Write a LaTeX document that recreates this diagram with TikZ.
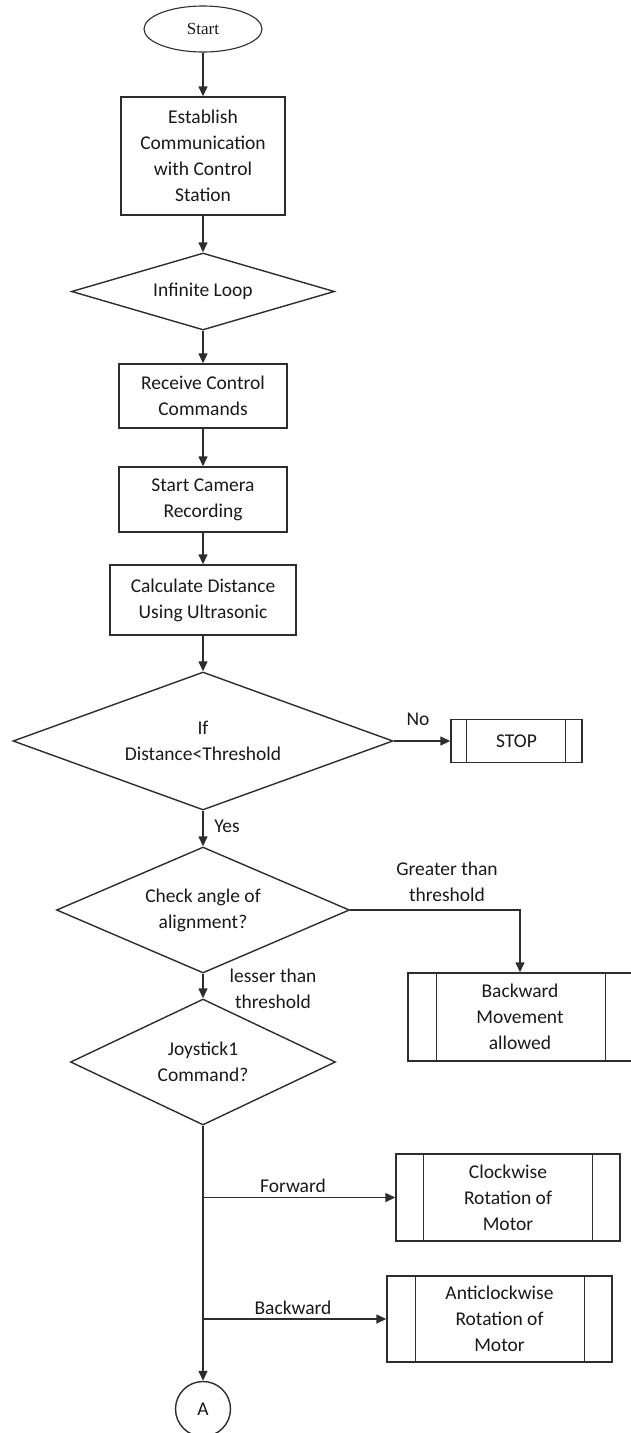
\documentclass[tikz,border=0pt]{standalone}
\usepackage{fontspec}
\setmainfont{Carlito}
\newfontfamily\startfont{Liberation Serif}
\usetikzlibrary{shapes.geometric,arrows.meta,calc}
\definecolor{ln}{RGB}{45,45,45}
\definecolor{tx}{RGB}{25,25,25}
\begin{document}
\begin{tikzpicture}[x=1pt,y=-1pt,
  every node/.style={font=\fontsize{19.5}{26}\selectfont, text=tx},
  line/.style={draw=ln, line width=1.4pt},
  arr/.style={line, -{Triangle[length=10pt,width=9pt]}},
  proc/.style={line, rectangle, align=center, inner sep=0pt},
  dec/.style={line, diamond, align=center, inner sep=0pt},
  lbl/.style={align=center, inner sep=0pt}
]
\useasboundingbox (0,0) rectangle (630,1433);
% main column
\node[line, line width=1.1pt, ellipse, minimum width=118pt, minimum height=46pt, inner sep=0pt,
      font=\startfont\fontsize{17}{20}\selectfont] (start) at (203,29) {Start};
\node[proc, minimum width=164pt, minimum height=118pt] (est) at (203,156)
  {Establish\\Communication\\with Control\\Station};
\node[dec, minimum width=263pt, minimum height=77pt, aspect=3.4] (loop) at (203,291.5) {Infinite Loop};
\node[proc, minimum width=168pt, minimum height=64pt] (recv) at (203,396) {Receive Control\\Commands};
\node[proc, minimum width=168pt, minimum height=65pt] (cam) at (203,499.5) {Start Camera\\Recording};
\node[proc, minimum width=186pt, minimum height=70pt] (calc) at (203,600) {Calculate Distance\\Using Ultrasonic};
\node[dec, minimum width=380pt, minimum height=138pt, aspect=2.75] (ifd) at (203,741) {If\\Distance<Threshold};
\node[dec, minimum width=293pt, minimum height=126pt, aspect=2.33] (chk) at (203,910) {Check angle of\\alignment?};
\node[dec, minimum width=265pt, minimum height=126pt, aspect=2.1] (joy) at (203,1062) {Joystick1\\Command?};
\node[line, circle, minimum size=55pt, inner sep=0pt] (A) at (203,1409) {A};
% right side boxes
\node[proc, minimum width=131pt, minimum height=43pt] (stop) at (516.5,741) {STOP};
\draw[line] ([xshift=16pt]stop.north west) -- ([xshift=16pt]stop.south west);
\draw[line] ([xshift=-17pt]stop.north east) -- ([xshift=-17pt]stop.south east);
\node[proc, minimum width=224pt, minimum height=88pt] (back) at (520,1017) {Backward\\Movement\\allowed};
\draw[line] ([xshift=29pt]back.north west) -- ([xshift=29pt]back.south west);
\draw[line] ([xshift=-27pt]back.north east) -- ([xshift=-27pt]back.south east);
\node[proc, minimum width=224pt, minimum height=87pt] (cw) at (508,1197.5) {Clockwise\\Rotation of\\Motor};
\draw[line] ([xshift=28pt]cw.north west) -- ([xshift=28pt]cw.south west);
\draw[line] ([xshift=-28pt]cw.north east) -- ([xshift=-28pt]cw.south east);
\node[proc, minimum width=225pt, minimum height=86pt] (acw) at (499.5,1319) {Anticlockwise\\Rotation of\\Motor};
\draw[line] ([xshift=29pt]acw.north west) -- ([xshift=29pt]acw.south west);
\draw[line] ([xshift=-28pt]acw.north east) -- ([xshift=-28pt]acw.south east);
% connectors
\draw[arr] (start.south) -- (est.north);
\draw[arr] (est.south) -- (loop.north);
\draw[arr] (loop.south) -- (recv.north);
\draw[arr] (recv.south) -- (cam.north);
\draw[arr] (cam.south) -- (calc.north);
\draw[arr] (calc.south) -- (ifd.north);
\draw[arr] (ifd.east) -- (stop.west);
\draw[arr] (ifd.south) -- (chk.north);
\draw[arr] (chk.east) -| (back.north);
\draw[arr] (chk.south) -- (joy.north);
\draw[arr] (joy.south) -- (A.north);
\coordinate (fw) at (joy.south |- cw.west);
\coordinate (bw) at (joy.south |- acw.west);
\draw[arr] (fw) -- (cw.west);
\draw[arr] (bw) -- (acw.west);
% labels
\node[lbl] at (418,719) {No};
\node[lbl] at (227,826) {Yes};
\node[lbl] at (447,882) {Greater than\\threshold};
\node[lbl] at (273,989) {lesser than\\threshold};
\node[lbl] at (293,1186) {Forward};
\node[lbl] at (293,1308) {Backward};
\end{tikzpicture}
\end{document}
